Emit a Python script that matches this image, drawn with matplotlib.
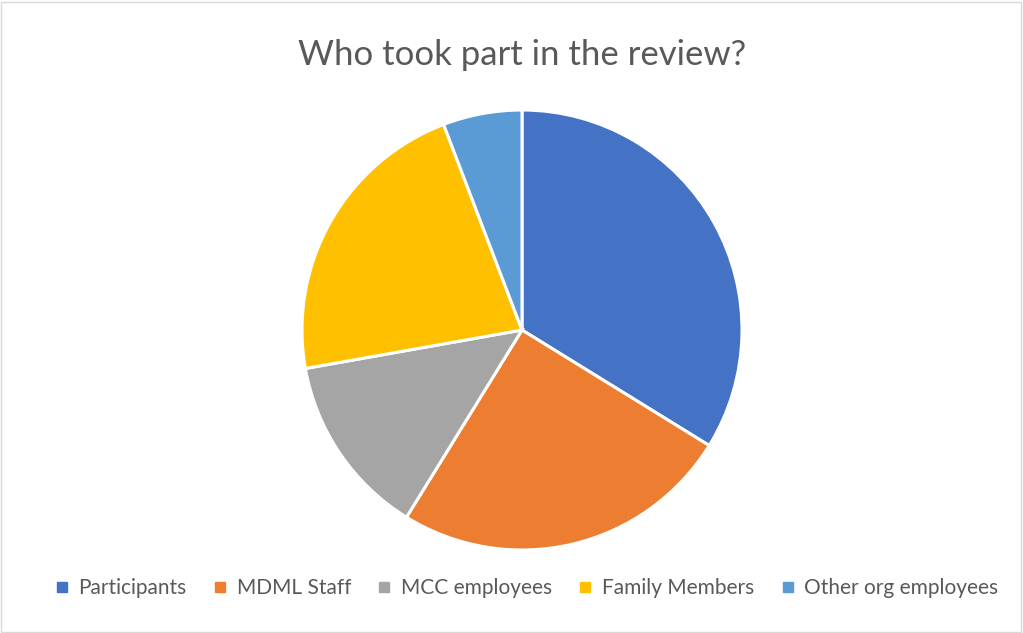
import matplotlib.pyplot as plt
from matplotlib.patches import Rectangle
from matplotlib.lines import Line2D

categories = ["Participants", "MDML Staff", "MCC employees", "Family Members", "Other org employees"]
values = [33.8, 25.0, 13.4, 22.0, 5.8]
colors = ["#4472C4", "#ED7D31", "#A5A5A5", "#FFC000", "#5B9BD5"]
title = "Who took part in the review?"

W, H = 1023, 633
fig = plt.figure(figsize=(W / 100, H / 100), dpi=100)
fig.patch.set_facecolor("white")
fig.add_artist(Rectangle((1 / W, 1 / H), 1 - 3 / W, 1 - 3 / H, transform=fig.transFigure,
                         fill=False, edgecolor="#D9D9D9", linewidth=1))

cx, cy, r = 522, 330, 220
ax = fig.add_axes([(cx - r) / W, (H - cy - r) / H, 2 * r / W, 2 * r / H])
ax.pie(values, colors=colors, startangle=90, counterclock=False,
       wedgeprops=dict(edgecolor="white", linewidth=2.2))
ax.set_aspect("equal")
ax.set_xlim(-1, 1)
ax.set_ylim(-1, 1)
ax.axis("off")

fig.text(cx / W, 1 - 55 / H, title, ha="center", va="center", fontsize=25,
         color="#595959", family="Lato")

handles = [Line2D([], [], marker="s", linestyle="none", markersize=7,
                  markerfacecolor=c, markeredgecolor=c) for c in colors]
fig.legend(handles, categories, loc="center", bbox_to_anchor=(527 / W, 1 - 588 / H),
           ncol=5, frameon=False, handlelength=0.6, handletextpad=0.5,
           columnspacing=1.3, labelcolor="#595959", prop=dict(family="Lato", size=15))

fig.savefig("out.png", dpi=100)
